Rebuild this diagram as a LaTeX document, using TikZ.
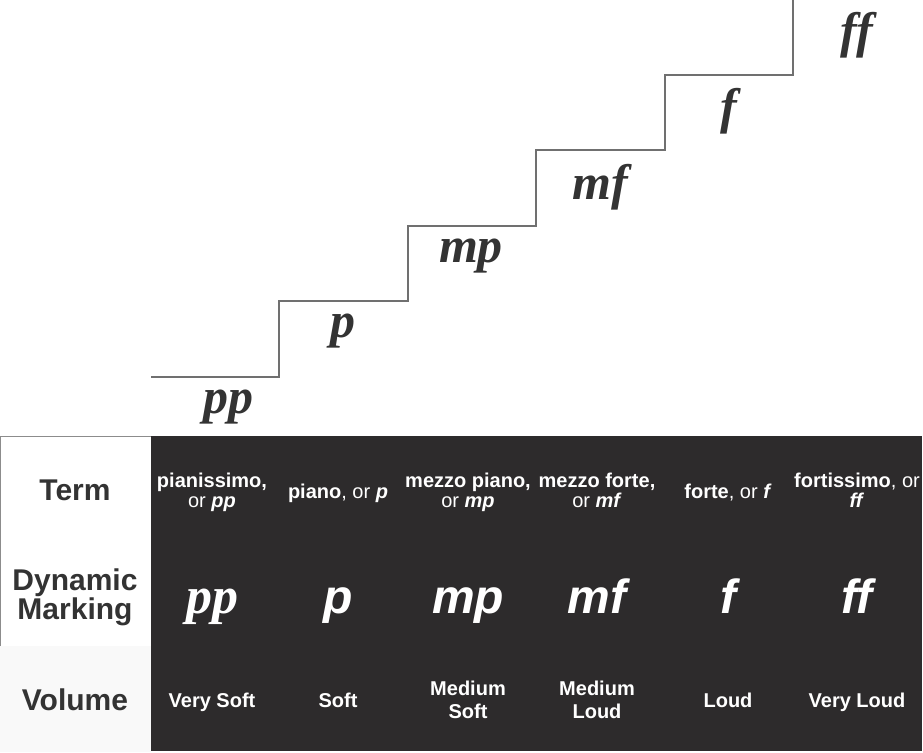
\documentclass[tikz,border=0pt]{standalone}
\usepackage{fontspec}
\setmainfont{Liberation Sans}
\newfontfamily\dynserif{Liberation Serif}
\definecolor{tabdark}{HTML}{2D2B2C}
\definecolor{labgray}{HTML}{333333}
\definecolor{stairgray}{HTML}{707070}
\definecolor{cellborder}{HTML}{8C8C8C}
\definecolor{volfill}{HTML}{F9F9F9}
\begin{document}
\begin{tikzpicture}[x=1pt,y=-1pt,
  stairlbl/.style={anchor=base, text=labgray, inner sep=0,
    font=\dynserif\bfseries\itshape\fontsize{50}{50}\selectfont},
  rowlbl/.style={text=labgray, inner sep=0, align=center,
    font=\bfseries\fontsize{30}{25}\selectfont},
  termtxt/.style={text=white, inner sep=0, align=center,
    font=\fontsize{20}{20}\selectfont},
  marktxt/.style={anchor=base, text=white, inner sep=0,
    font=\bfseries\itshape\fontsize{48}{48}\selectfont},
  voltxt/.style={text=white, inner sep=0, align=center,
    font=\bfseries\fontsize{20}{23}\selectfont},
  stairline/.style={draw=stairgray, line width=1.4pt}
]
\useasboundingbox[fill=white] (0,0) rectangle (923,752);

% staircase
\draw[stairline] (151,377) -- (279,377) -- (279,301) -- (408,301) -- (408,226)
  -- (536,226) -- (536,150) -- (665,150) -- (665,75) -- (793,75) -- (793,0);
\node[stairlbl] (s1) at (228,413) {pp};
\node[stairlbl] (s2) at (343,337) {p};
\node[stairlbl] (s3) at (471,262) {mp};
\node[stairlbl] (s4) at (600,199) {mf};
\node[stairlbl] (s5) at (729,123) {f};
\node[stairlbl] (s6) at (857,48) {ff};

% table
\fill[tabdark] (151,436) rectangle (922,751);
\fill[volfill] (0,646) rectangle (151,752);
\draw[cellborder, line width=1pt] (0.5,646) -- (0.5,436.5) -- (151,436.5);

\node[rowlbl, anchor=base] (lterm) at (75,500) {Term};
\node[rowlbl] (lmark) at (75,597) {Dynamic\\Marking};
\node[rowlbl, anchor=base] (lvol) at (75,710) {Volume};

% term row
\node[termtxt] (t1) at (212,492) {\textbf{pianissimo,}\\or \textbf{\textit{pp}}};
\node[termtxt, anchor=base] (t2) at (338,498) {\textbf{piano}, or \textbf{\textit{p}}};
\node[termtxt] (t3) at (468,492) {\textbf{mezzo piano,}\\or \textbf{\textit{mp}}};
\node[termtxt] (t4) at (597,492) {\textbf{mezzo forte,}\\or \textbf{\textit{mf}}\vphantom{p}};
\node[termtxt, anchor=base] (t5) at (728,498) {\textbf{forte}, or \textbf{\textit{f}}};
\node[termtxt] (t6) at (857,492) {\textbf{fortissimo}, or\\\textbf{\textit{ff}}\vphantom{p}};

% dynamic marking row
\node[stairlbl, text=white, font=\dynserif\bfseries\itshape\fontsize{52}{52}\selectfont] (m1) at (212,613) {pp};
\node[marktxt] (m2) at (338,613) {p};
\node[marktxt] (m3) at (468,613) {mp};
\node[marktxt] (m4) at (597,613) {mf};
\node[marktxt] (m5) at (728,613) {f};
\node[marktxt] (m6) at (857,613) {ff};

% volume row
\node[voltxt, anchor=base] (v1) at (212,707) {Very Soft};
\node[voltxt, anchor=base] (v2) at (338,707) {Soft};
\node[voltxt] (v3) at (468,700) {Medium\\Soft};
\node[voltxt] (v4) at (597,700) {Medium\\Loud};
\node[voltxt, anchor=base] (v5) at (728,707) {Loud};
\node[voltxt, anchor=base] (v6) at (857,707) {Very Loud};
\end{tikzpicture}
\end{document}
